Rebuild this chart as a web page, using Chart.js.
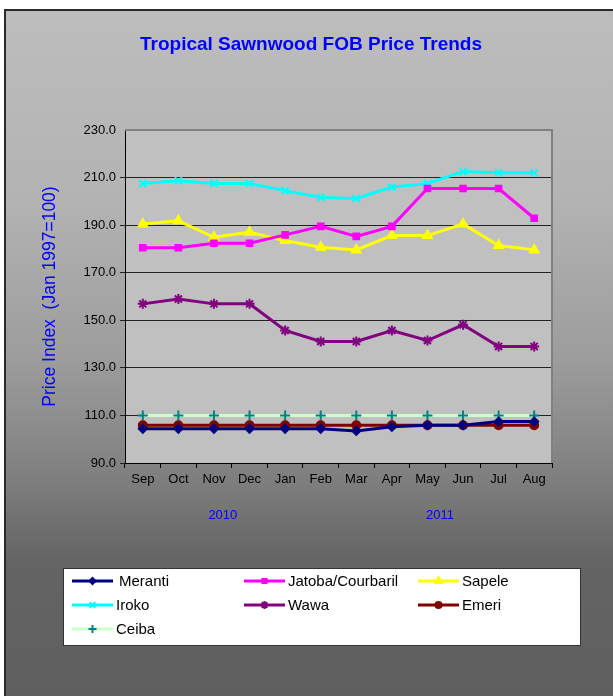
<!DOCTYPE html>
<html>
<head>
<meta charset="utf-8">
<script src="https://cdn.jsdelivr.net/npm/chart.js@4.4.1/dist/chart.umd.min.js"></script>
<style>
  html, body { margin: 0; padding: 0; width: 613px; height: 696px; overflow: hidden; background: #fff; }
  #frame {
    position: absolute; left: 4px; top: 9px; width: 700px; height: 800px;
    border: 2px solid #2a2a2a;
    background: linear-gradient(to bottom, #bdbdbd 0px, #b3b3b3 190px, #9c9c9c 350px, #7e7e7e 470px, #646464 550px, #5f5f5f 700px);
  }
  #chart { position: absolute; left: 0; top: 0; }
</style>
</head>
<body>
<div id="frame"></div>
<canvas id="chart" width="613" height="696"></canvas>
<script>
var months = ["Sep", "Oct", "Nov", "Dec", "Jan", "Feb", "Mar", "Apr", "May", "Jun", "Jul", "Aug"];
var yearLabels = ["2010", "2011"];
var yearTickAt = [2.25, 8.35];

var meranti = [104.4, 104.4, 104.4, 104.4, 104.4, 104.4, 103.5, 105.2, 105.9, 105.9, 107.4, 107.4];
var jatoba = [180.5, 180.5, 182.4, 182.4, 185.9, 189.5, 185.3, 189.5, 205.4, 205.4, 205.4, 192.9];
var sapele = [190.5, 191.8, 184.9, 187.0, 183.5, 180.7, 179.6, 185.6, 185.6, 190.5, 181.4, 179.6];
var iroko = [207.5, 208.7, 207.5, 207.5, 204.5, 201.6, 201.2, 206.0, 207.5, 212.6, 212.0, 212.0];
var wawa = [156.9, 158.9, 156.9, 156.9, 145.7, 141.1, 141.1, 145.7, 141.5, 148.1, 139.0, 139.0];
var emeri = [105.9, 105.9, 105.9, 105.9, 105.9, 105.9, 105.9, 105.9, 105.9, 105.9, 105.9, 105.9];
var ceiba = [110, 110, 110, 110, 110, 110, 110, 110, 110, 110, 110, 110];

var FONT = "'Liberation Sans', Arial, sans-serif";
Chart.defaults.font.family = FONT;

function series(label, values, line, marker, style, radius) {
  return {
    label: label,
    data: values,
    borderColor: line,
    backgroundColor: marker,
    pointBackgroundColor: marker,
    pointBorderColor: marker,
    pointStyle: style,
    pointRadius: radius,
    pointBorderWidth: 2,
    borderWidth: 3,
    tension: 0
  };
}

var datasets = [
  series("Meranti", meranti, "#000080", "#000080", "rectRot", 4),
  series("Jatoba/Courbaril", jatoba, "#ff00ff", "#ff00ff", "rect", 4),
  series("Sapele", sapele, "#ffff00", "#ffff00", "triangle", 5),
  series("Iroko", iroko, "#00ffff", "#00ffff", "crossRot", 5),
  series("Wawa", wawa, "#800080", "#800080", "star", 5),
  series("Emeri", emeri, "#800000", "#800000", "circle", 4),
  series("Ceiba", ceiba, "#ccffcc", "#008080", "cross", 5)
];

// grey plot area with its border
var plotArea = {
  id: "plotArea",
  beforeDraw: function (chart) {
    var a = chart.chartArea, ctx = chart.ctx;
    ctx.save();
    ctx.fillStyle = "#c0c0c0";
    ctx.fillRect(a.left, a.top, a.right - a.left, a.bottom - a.top);
    ctx.restore();
  },
  beforeDatasetsDraw: function (chart) {
    var a = chart.chartArea, ctx = chart.ctx;
    ctx.save();
    ctx.strokeStyle = "#808080";
    ctx.lineWidth = 2;
    ctx.beginPath();
    ctx.moveTo(a.left, a.top);
    ctx.lineTo(a.right, a.top);
    ctx.lineTo(a.right, a.bottom);
    ctx.stroke();
    ctx.restore();
  }
};

// three column legend in a white box, like the spreadsheet one
var boxLegend = {
  id: "boxLegend",
  afterDraw: function (chart) {
    var ctx = chart.ctx;
    var colX = [72, 244, 418], rowY = [581, 605, 629];
    ctx.save();
    ctx.fillStyle = "#ffffff";
    ctx.fillRect(63, 568, 517, 77);
    ctx.strokeStyle = "#333333";
    ctx.lineWidth = 1;
    ctx.strokeRect(63.5, 568.5, 517, 77);
    chart.data.datasets.forEach(function (ds, i) {
      var x = colX[i % 3], y = rowY[Math.floor(i / 3)];
      ctx.strokeStyle = ds.borderColor;
      ctx.lineWidth = 3;
      ctx.beginPath();
      ctx.moveTo(x, y);
      ctx.lineTo(x + 41, y);
      ctx.stroke();
      ctx.fillStyle = ds.pointBackgroundColor;
      ctx.strokeStyle = ds.pointBorderColor;
      ctx.lineWidth = 2;
      Chart.helpers.drawPoint(ctx, { pointStyle: ds.pointStyle, radius: ds.pointRadius - 1, rotation: 0, borderWidth: 2 }, x + 20.5, y);
      ctx.fillStyle = "#000";
      ctx.font = "15px " + FONT;
      ctx.textAlign = "left";
      ctx.textBaseline = "middle";
      ctx.fillText(ds.label, x + (i === 0 ? 47 : 44), y + 1);
    });
    ctx.restore();
  }
};

new Chart(document.getElementById("chart"), {
  type: "line",
  data: { labels: months, datasets: datasets },
  plugins: [plotArea, boxLegend],
  options: {
    responsive: false,
    animation: false,
    layout: { padding: { left: 35, right: 26, top: 33, bottom: 163 } },
    plugins: {
      legend: { display: false },
      tooltip: { enabled: false },
      title: {
        display: true,
        text: "Tropical Sawnwood FOB Price Trends",
        color: "#0000ff",
        font: { size: 19, weight: "bold", family: FONT },
        padding: { top: 0, bottom: 74.2 }
      }
    },
    scales: {
      x: {
        type: "category",
        weight: 0,
        offset: true,
        afterFit: function (s) { s.height = 30; },
        border: { color: "#000", width: 1 },
        grid: { offset: true, drawOnChartArea: false, drawTicks: true, tickLength: 5, color: "#000" },
        ticks: { color: "#000", font: { size: 13 }, padding: 4, maxRotation: 0, autoSkip: false }
      },
      year: {
        type: "linear",
        axis: "x",
        position: "bottom",
        weight: 1,
        min: -0.5,
        max: 11.5,
        afterFit: function (s) { s.height = 40; },
        afterBuildTicks: function (s) {
          s.ticks = yearTickAt.map(function (v) { return { value: v }; });
        },
        border: { display: false },
        grid: { display: false, drawTicks: false },
        ticks: {
          color: "#0000ff",
          font: { size: 13 },
          padding: 15,
          maxRotation: 0,
          autoSkip: false,
          callback: function (v, i) { return yearLabels[i]; }
        }
      },
      y: {
        min: 90,
        max: 230,
        afterFit: function (s) { s.width = 90; },
        border: { color: "#000", width: 1 },
        grid: {
          color: function (c) { return c.tick && c.tick.value === 230 ? "rgba(0,0,0,0)" : "#222"; },
          lineWidth: 1,
          tickLength: 5,
          drawTicks: true
        },
        ticks: {
          stepSize: 20,
          color: "#000",
          font: { size: 13 },
          padding: 4,
          callback: function (v) { return v.toFixed(1); }
        },
        title: {
          display: true,
          text: "Price Index  (Jan 1997=100)",
          color: "#0000ff",
          font: { size: 17.5, family: FONT },
          padding: { top: 5, bottom: 0 }
        }
      },
      // empty strip on the right so the chart title centres on the whole frame
      rightSpace: {
        type: "linear",
        axis: "y",
        position: "right",
        afterFit: function (s) { s.width = 35; },
        border: { display: false },
        grid: { display: false },
        ticks: { display: false }
      }
    }
  }
});
</script>
</body>
</html>
